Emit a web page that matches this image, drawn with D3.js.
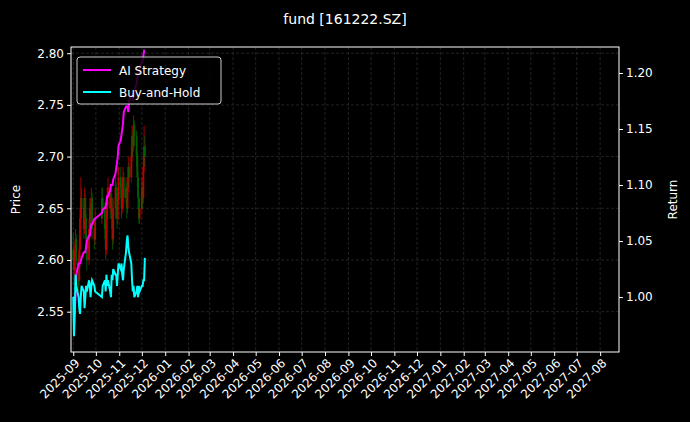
<!DOCTYPE html>
<html><head><meta charset="utf-8">
<script src="https://cdn.jsdelivr.net/npm/d3@7"></script>
<style>body{margin:0;background:#000}</style>
</head><body><svg id="chart" width="690" height="422"></svg>
<script>
// trading days Sep 1 - Dec 5 2025 (weekdays, no Oct 1-8 holiday)
const closes = [2.60,2.59,2.61,2.62,2.60,2.58,2.61,2.64,2.66,2.65,2.63,2.66,2.64,2.62,2.60,2.63,2.65,2.64,2.66,2.63,2.62,2.64,
  2.66,2.65,2.63,2.61,2.64,2.66,2.67,2.65,2.66,2.64,2.62,2.65,2.67,2.66,2.64,2.66,2.68,
  2.67,2.65,2.66,2.68,2.66,2.67,2.65,2.67,2.69,2.68,2.70,2.72,2.71,2.73,2.72,2.70,2.68,2.66,2.64,2.65,
  2.67,2.66,2.69,2.71,2.70];
const opens = [2.61,2.60,2.59,2.61,2.62,2.60,2.58,2.61,2.64,2.66,2.65,2.63,2.66,2.64,2.62,2.60,2.63,2.65,2.64,2.66,2.63,2.62,
  2.64,2.66,2.65,2.63,2.61,2.64,2.66,2.67,2.65,2.66,2.64,2.62,2.65,2.67,2.66,2.64,2.66,
  2.68,2.67,2.65,2.66,2.68,2.66,2.67,2.65,2.67,2.69,2.68,2.70,2.72,2.71,2.73,2.72,2.70,2.68,2.66,2.64,
  2.65,2.67,2.66,2.69,2.71];
const highs = [2.625,2.61,2.615,2.63,2.625,2.605,2.62,2.65,2.68,2.67,2.66,2.67,2.665,2.645,2.625,2.64,2.66,2.655,2.67,2.665,2.635,2.65,
  2.67,2.67,2.655,2.635,2.65,2.67,2.68,2.675,2.67,2.665,2.645,2.66,2.68,2.675,2.665,2.67,2.69,
  2.69,2.675,2.67,2.69,2.685,2.68,2.675,2.68,2.70,2.695,2.71,2.73,2.725,2.74,2.735,2.725,2.705,2.685,2.665,2.66,
  2.68,2.675,2.70,2.73,2.72];
const lows = [2.59,2.575,2.585,2.60,2.595,2.57,2.575,2.60,2.63,2.64,2.62,2.625,2.63,2.61,2.59,2.595,2.62,2.63,2.635,2.62,2.61,2.615,
  2.635,2.64,2.62,2.60,2.605,2.63,2.65,2.64,2.645,2.63,2.61,2.615,2.64,2.65,2.63,2.635,2.655,
  2.66,2.64,2.645,2.655,2.65,2.655,2.64,2.645,2.665,2.67,2.675,2.695,2.70,2.705,2.71,2.69,2.67,2.65,2.635,2.635,
  2.645,2.65,2.655,2.685,2.69];
const aiReturn = [1.0,1.0,0.985,1.0,1.02,1.03,1.03,1.03,1.032,1.035,1.04,1.04,1.04,1.045,1.05,1.055,1.055,1.06,1.065,1.065,1.07,1.07,
  1.075,1.078,1.08,1.08,1.085,1.09,1.09,1.095,1.10,1.10,1.10,1.105,1.11,1.115,1.12,1.125,1.135,
  1.14,1.145,1.15,1.155,1.165,1.17,1.17,1.17,1.165,1.175,1.18,1.18,1.175,1.18,1.185,1.19,1.195,1.20,1.20,1.205,
  1.21,1.21,1.215,1.22,1.22];
const bhReturn = [1.0,0.965,0.985,1.02,1.01,1.0,0.99,0.985,1.0,1.01,1.005,0.99,1.0,1.01,1.005,1.015,1.01,1.0,1.01,1.015,1.01,1.005,
  1.0,1.01,1.015,1.005,1.02,1.01,1.015,1.005,1.0,1.02,1.015,1.025,1.02,1.02,1.01,1.02,1.03,
  1.025,1.03,1.02,1.015,1.025,1.04,1.05,1.055,1.045,1.04,1.03,1.015,1.005,1.01,1.0,1.005,1.01,1.0,1.01,1.005,
  1.01,1.01,1.015,1.015,1.035];
const priceTicks = [2.55,2.60,2.65,2.70,2.75,2.80];
const returnTicks = [1.00,1.05,1.10,1.15,1.20];

const dates = d3.timeDay.range(new Date(2025,8,1), new Date(2025,11,6))
  .filter(d => d.getDay() % 6 !== 0 && !(d.getMonth() === 9 && d.getDate() <= 8));

const svg = d3.select("#chart");
const L = 71, R = 619, T = 47, B = 352;

let x = d3.scaleTime().domain([new Date(2025,7,29), new Date(2027,7,26)]).range([L, R]);
let y = d3.scaleLinear().domain([2.511, 2.806]).range([B, T]);
let y2 = d3.scaleLinear().domain([0.951, 1.2232]).range([B, T]);

svg.append("rect").attr("width", 690).attr("height", 422).attr("fill", "#000");

// grid
let months = d3.timeMonth.range(new Date(2025,8,1), new Date(2027,7,2));
svg.append("g").selectAll("line").data(months).join("line")
  .attr("x1", d => x(d)).attr("x2", d => x(d)).attr("y1", T).attr("y2", B)
  .attr("stroke", "#444").attr("stroke-width", 0.5).attr("stroke-dasharray", "3,2");
svg.append("g").selectAll("line").data(priceTicks).join("line")
  .attr("x1", L).attr("x2", R).attr("y1", d => y(d)).attr("y2", d => y(d))
  .attr("stroke", "#444").attr("stroke-width", 0.5).attr("stroke-dasharray", "3,2");

// candles
let candles = svg.append("g").attr("opacity", 0.75);
dates.forEach((d, i) => {
  let col = closes[i] >= opens[i] ? "#ff0000" : "#008000";
  candles.append("line").attr("x1", x(d)).attr("x2", x(d))
    .attr("y1", y(highs[i])).attr("y2", y(lows[i])).attr("stroke", col).attr("stroke-width", 0.8);
  candles.append("rect").attr("x", x(d) - 0.9).attr("width", 1.8)
    .attr("y", y(Math.max(opens[i], closes[i])))
    .attr("height", Math.max(1, Math.abs(y(opens[i]) - y(closes[i]))))
    .attr("fill", col);
});

// return lines
let line = d3.line().x((v, i) => x(dates[i])).y(v => y2(v));
svg.append("defs").append("clipPath").attr("id", "clip")
  .append("rect").attr("x", L).attr("y", T).attr("width", R - L).attr("height", B - T);
let lines = svg.append("g").attr("clip-path", "url(#clip)");
lines.append("path").attr("d", line(aiReturn)).attr("fill", "none").attr("stroke", "#ff00ff").attr("stroke-width", 2);
lines.append("path").attr("d", line(bhReturn)).attr("fill", "none").attr("stroke", "#00ffff").attr("stroke-width", 2);

// frame
svg.append("rect").attr("x", L).attr("y", T).attr("width", R - L).attr("height", B - T)
  .attr("fill", "none").attr("stroke", "#fff").attr("stroke-width", 1);

// axes
let styleAxis = g => {
  g.select(".domain").remove();
  g.selectAll("line").attr("stroke", "#fff");
  g.selectAll("text").attr("fill", "#fff").style("font-family", "DejaVu Sans").style("font-size", "12px");
};
svg.append("g").attr("transform", `translate(${L},0)`)
  .call(d3.axisLeft(y).tickValues(priceTicks).tickFormat(d3.format(".2f")).tickSize(4)).call(styleAxis);
svg.append("g").attr("transform", `translate(${R},0)`)
  .call(d3.axisRight(y2).tickValues(returnTicks).tickFormat(d3.format(".2f")).tickSize(4)).call(styleAxis);
let xa = svg.append("g").attr("transform", `translate(0,${B})`)
  .call(d3.axisBottom(x).tickValues(months).tickFormat(d3.timeFormat("%Y-%m")).tickSize(4)).call(styleAxis);
xa.selectAll("text").attr("text-anchor", "end").attr("dx", "-0.3em").attr("dy", "0.5em")
  .attr("transform", "rotate(-45)");

// labels
svg.append("text").attr("x", 20).attr("y", (T + B) / 2).attr("transform", `rotate(-90,20,${(T + B) / 2})`)
  .attr("text-anchor", "middle").attr("fill", "#fff").style("font", "12px DejaVu Sans").text("Price");
svg.append("text").attr("x", 677).attr("y", (T + B) / 2).attr("transform", `rotate(-90,677,${(T + B) / 2})`)
  .attr("text-anchor", "middle").attr("fill", "#fff").style("font", "12px DejaVu Sans").text("Return");
svg.append("text").attr("x", 345).attr("y", 24).attr("text-anchor", "middle").attr("fill", "#fff")
  .style("font", "14px DejaVu Sans").text("fund [161222.SZ]");

// legend
let lg = svg.append("g").attr("transform", "translate(77,57)");
lg.append("rect").attr("width", 144).attr("height", 47).attr("rx", 3)
  .attr("fill", "#000").attr("fill-opacity", 0.8).attr("stroke", "#ccc");
[["AI Strategy", "#ff00ff"], ["Buy-and-Hold", "#00ffff"]].forEach(([t, c], i) => {
  lg.append("line").attr("x1", 6).attr("x2", 34).attr("y1", 13 + i * 22).attr("y2", 13 + i * 22)
    .attr("stroke", c).attr("stroke-width", 2);
  lg.append("text").attr("x", 42).attr("y", 17.5 + i * 22).attr("fill", "#fff")
    .style("font", "12px DejaVu Sans").text(t);
});
</script></body></html>
